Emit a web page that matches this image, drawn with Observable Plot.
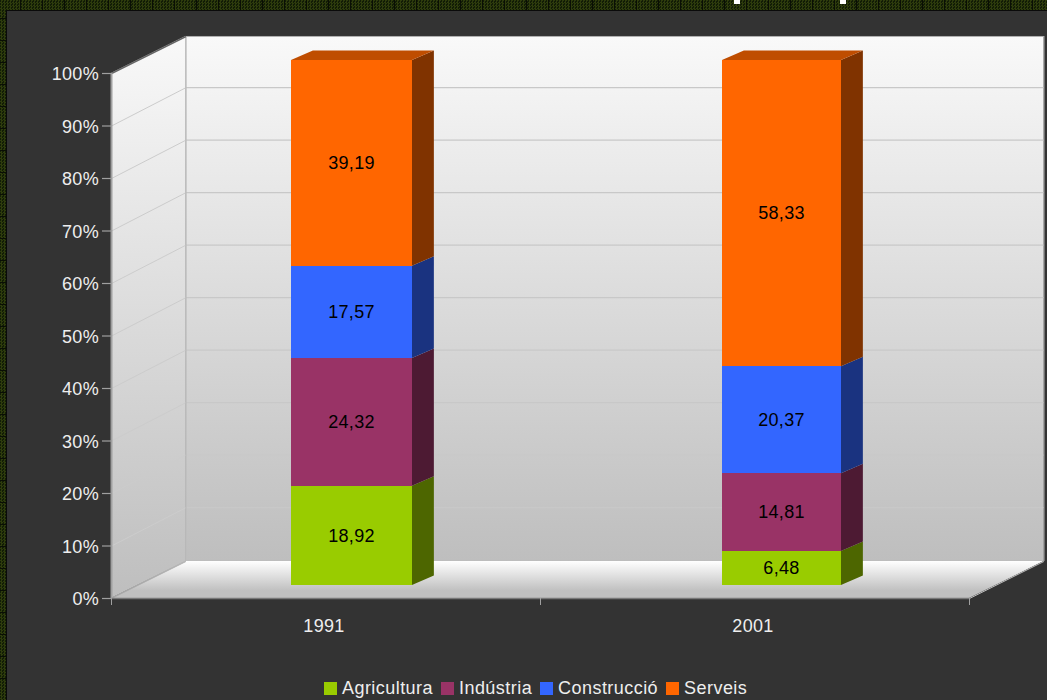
<!DOCTYPE html>
<html>
<head>
<meta charset="utf-8">
<script src="https://cdn.jsdelivr.net/npm/d3@7"></script>
<script src="https://cdn.jsdelivr.net/npm/@observablehq/plot@0.6"></script>
<style>
html,body{margin:0;padding:0;width:1047px;height:700px;overflow:hidden;}
body{position:relative;
 background-color:#1c2a08;
 background-image:
  linear-gradient(transparent 21px,#0a0f04 21px),
  linear-gradient(90deg,transparent 21px,#0a0f04 21px),
  conic-gradient(#2e3c0c 25%,#121c06 0 50%,#2e3c0c 0 75%,#121c06 0);
 background-size:22px 22px,22px 22px,3px 3px;
 background-position:0 -3px,-1px 0,0 0;
 background-repeat:repeat;}
#panel{position:absolute;left:6px;top:10px;width:1041px;height:690px;background:#333;border-left:1px solid #0a0a0a;border-top:1px solid #0a0a0a;box-sizing:border-box;}
.clip{position:absolute;top:0;height:4px;width:6px;background:#fff;}
#chart{position:absolute;left:0;top:0;width:1047px;}
#chart svg{display:block;background:transparent;}
#legend{position:absolute;left:324px;top:677px;height:22px;display:flex;align-items:center;font:18px "Liberation Sans",sans-serif;color:#eee;white-space:nowrap;line-height:22px;}
#legend i{display:inline-block;width:13px;height:13px;margin-right:5px;}
#legend span{margin-right:8px;letter-spacing:.45px;}
</style>
</head>
<body>
<div id="panel"></div>
<div class="clip" style="left:734px"></div>
<div class="clip" style="left:840px"></div>
<div id="chart"></div>
<div id="legend"></div>
<script>
const years = ["1991", "2001"];
const seriesNames = ["Agricultura", "Indústria", "Construcció", "Serveis"];
const v1991 = [18.92, 24.32, 17.57, 39.19];
const v2001 = [6.48, 14.81, 20.37, 58.33];
const frontColors = ["#99cc00", "#993366", "#3366ff", "#ff6600"];
const sideColors = ["#4d6600", "#4d1a33", "#1a3380", "#803300"];
const topColor = "#bf4d00";
const yTicks = [0, 10, 20, 30, 40, 50, 60, 70, 80, 90, 100];

// Geometry in data units (x: one category = 1, y: percent)
const wallDX = 0.1735, wallDY = 7.05;   // depth of the plot box
const gridDY = 7.3;                     // rise of the grid lines across the side wall
const barDX = 0.051, barDY = 1.81;      // depth of each bar
const barBase = 2.476;                  // bar front sits forward of the axis plane
const barSpan = [[0.4196, 0.7016], [1.4242, 1.7016]];

const yearValues = [v1991, v2001];
const fronts = [], sides = [], labels = [], tops = [];
yearValues.forEach((vals, yi) => {
  let cum = 0;
  const [xa, xb] = barSpan[yi];
  vals.forEach((v, si) => {
    const y1 = barBase + cum, y2 = y1 + v;
    cum += v;
    fronts.push({x1: xa, x2: xb, y1, y2, series: seriesNames[si]});
    labels.push({x: (xa + xb) / 2, y: (y1 + y2) / 2, text: v.toFixed(2).replace(".", ",")});
    const key = years[yi] + si;
    sides.push({key, si, x: xb, y1, y2});
    sides.push({key, si, x: xb + barDX, y1: y1 + barDY, y2: y2 + barDY});
  });
  const t = barBase + cum;
  tops.push({key: years[yi], y: t, x1: xa, x2: xb});
  tops.push({key: years[yi], y: t + barDY, x1: xa + barDX, x2: xb + barDX});
});

const defs = () => {
  const d = d3.create("svg:defs");
  d.html(`
  <linearGradient id="wall" x1="0" y1="0" x2="0" y2="1">
    <stop offset="0" stop-color="#f9f9f9"/><stop offset="1" stop-color="#bebebe"/>
  </linearGradient>
  <linearGradient id="floor" x1="0" y1="0" x2="0" y2="1">
    <stop offset="0" stop-color="#ffffff"/><stop offset="0.8" stop-color="#c0c0c0"/><stop offset="1" stop-color="#c0c0c0"/>
  </linearGradient>`);
  return d.node();
};

const font = '"Liberation Sans",sans-serif';
const plot = Plot.plot({
  width: 1047, height: 670,
  marginLeft: 111, marginRight: 78, marginTop: 73, marginBottom: 72,
  style: {background: "transparent", color: "#eee", fontFamily: font, fontSize: "18px", letterSpacing: "0.3px"},
  x: {type: "linear", domain: [0, 2]},
  y: {type: "linear", domain: [0, 100]},
  color: {type: "ordinal", domain: seriesNames, range: frontColors},
  marks: [
    defs,
    // back wall
    Plot.rect([{}], {x1: wallDX, x2: 2 + wallDX, y1: wallDY, y2: 100 + wallDY, fill: "url(#wall)"}),
    // left wall
    Plot.areaY([{x: 0, a: 0, b: 100}, {x: wallDX, a: wallDY, b: 100 + wallDY}], {x: "x", y1: "a", y2: "b", fill: "url(#wall)"}),
    // floor
    Plot.areaX([{y: wallDY, a: wallDX, b: 2 + wallDX}, {y: 0, a: 0, b: 2}], {y: "y", x1: "a", x2: "b", fill: "url(#floor)"}),
    // grid lines
    Plot.ruleY(yTicks.filter(d => d > 0 && d < 100), {y: d => d + gridDY, x1: wallDX, x2: 2 + wallDX, stroke: "#c8c8c8", strokeWidth: 1.3}),
    Plot.link(yTicks.filter(d => d > 0 && d < 100), {x1: 0, y1: d => d, x2: wallDX, y2: d => d + gridDY, stroke: "#cccccc", strokeWidth: 1}),
    Plot.ruleX([wallDX], {y1: wallDY, y2: 100 + wallDY, stroke: "#bdbdbd", strokeWidth: 1.5}),
    Plot.ruleX([2 + wallDX], {y1: wallDY, y2: 100 + wallDY, stroke: "#c4c4c4", strokeWidth: 1}),
    Plot.ruleY([100 + wallDY], {x1: wallDX, x2: 2 + wallDX, stroke: "#b0b0b0", strokeWidth: 1}),
    Plot.link([0], {x1: 0, y1: 100, x2: wallDX, y2: 100 + wallDY, stroke: "#666", strokeWidth: 1.5}),
    Plot.link([0], {x1: 2, y1: 0, x2: 2 + wallDX, y2: wallDY, stroke: "#bbb", strokeWidth: 1}),
    Plot.link([0], {x1: 0, y1: 0, x2: wallDX, y2: wallDY, stroke: "#aaa", strokeWidth: 1}),
    // bars
    Plot.areaY(sides, {x: "x", y1: "y1", y2: "y2", z: "key", fill: d => sideColors[d.si]}),
    Plot.areaX(tops, {y: "y", x1: "x1", x2: "x2", z: "key", fill: topColor}),
    Plot.rect(fronts, {x1: "x1", x2: "x2", y1: "y1", y2: "y2", fill: "series", shapeRendering: "crispEdges"}),
    Plot.text(labels, {x: "x", y: "y", text: "text", fill: "#000", fontSize: 18, dx: -0.5}),
    // axes
    Plot.ruleY([0], {x1: 0, x2: 2, stroke: "#777", strokeWidth: 1.5}),
    Plot.ruleX([0], {y1: 0, y2: 100, stroke: "#a0a0a0", strokeWidth: 2}),
    Plot.axisY({ticks: yTicks, tickSize: 9, fill: "none", stroke: "#a0a0a0", label: null, strokeWidth: 1.2}),
    Plot.axisY({ticks: yTicks, tickSize: 0, tickPadding: 12.5, dy: 1, tickFormat: d => d + "%", label: null, fill: "#eee"}),
    Plot.axisX({ticks: [0, 1, 2], tickSize: 7, fill: "none", stroke: "#a0a0a0", label: null}),
    Plot.axisX({ticks: [0.4953, 1.4953], tickSize: 0, tickPadding: 21, tickFormat: (d, i) => years[i], label: null, fill: "#eee"})
  ]
});
document.getElementById("chart").appendChild(plot);

const legend = document.getElementById("legend");
seriesNames.forEach((name, i) => {
  const sw = document.createElement("i");
  sw.style.background = frontColors[i];
  const tx = document.createElement("span");
  tx.textContent = name;
  legend.append(sw, tx);
});
</script>
</body>
</html>
